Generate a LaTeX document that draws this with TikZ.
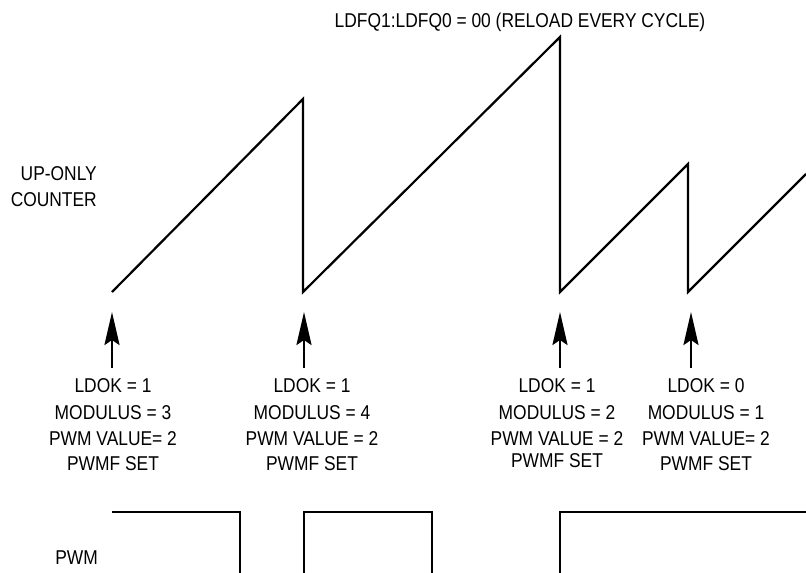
\documentclass[tikz,border=0pt]{standalone}
\usepackage{fontspec}
\setmainfont{Liberation Sans}[FakeStretch=0.87]
\usetikzlibrary{arrows.meta}
\begin{document}
\begin{tikzpicture}[x=1pt,y=-1pt,
  wave/.style={line width=2.2pt},
  trig/.style={line width=2.6pt,-{Stealth[length=33pt,width=15pt,inset=5pt]}},
  lbl/.style={inner sep=0pt,anchor=base,font=\fontsize{20}{24}\selectfont},
  lble/.style={lbl,anchor=base east}]
\useasboundingbox (0,0) rectangle (806,573);
% title and axis labels
\node[lbl] (title) at (520,27) {LDFQ1:LDFQ0 = 00 (RELOAD EVERY CYCLE)};
\node[lble] (up) at (97,180) {UP-ONLY};
\node[lble] (cnt) at (97,206) {COUNTER};
\node[lble] (pwm) at (98,564) {PWM};
% counter sawtooth
\draw[wave] (112,292) -- (303,99) -- (303,292) -- (560,37) -- (560,292)
  -- (688,164) -- (688,292) -- (806,174);
% trigger arrows
\coordinate (a1b) at (112,368); \coordinate (a1t) at (112,312);
\coordinate (a2b) at (304,368); \coordinate (a2t) at (304,312);
\coordinate (a3b) at (560,368); \coordinate (a3t) at (560,312);
\coordinate (a4b) at (691,368); \coordinate (a4t) at (691,312);
\draw[trig] (a1b) -- (a1t);
\draw[trig] (a2b) -- (a2t);
\draw[trig] (a3b) -- (a3t);
\draw[trig] (a4b) -- (a4t);
% group 1
\node[lbl] (g1a) at (113,392) {LDOK = 1};
\node[lbl] (g1b) at (113,419) {MODULUS = 3};
\node[lbl] (g1c) at (113,445) {PWM VALUE= 2};
\node[lbl] (g1d) at (113,470) {PWMF SET};
% group 2
\node[lbl] (g2a) at (312,392) {LDOK = 1};
\node[lbl] (g2b) at (312,419) {MODULUS = 4};
\node[lbl] (g2c) at (312,445) {PWM VALUE = 2};
\node[lbl] (g2d) at (312,470) {PWMF SET};
% group 3
\node[lbl] (g3a) at (557,392) {LDOK = 1};
\node[lbl] (g3b) at (557,419) {MODULUS = 2};
\node[lbl] (g3c) at (557,445) {PWM VALUE = 2};
\node[lbl] (g3d) at (557,467) {PWMF SET};
% group 4
\node[lbl] (g4a) at (706,392) {LDOK = 0};
\node[lbl] (g4b) at (706,419) {MODULUS = 1};
\node[lbl] (g4c) at (706,445) {PWM VALUE= 2};
\node[lbl] (g4d) at (706,470) {PWMF SET};
% PWM waveform
\draw[wave] (112,512) -- (240,512) -- (240,575);
\draw[wave] (304,575) -- (304,512) -- (432,512) -- (432,575);
\draw[wave] (560,575) -- (560,512) -- (808,512);
\end{tikzpicture}
\end{document}
